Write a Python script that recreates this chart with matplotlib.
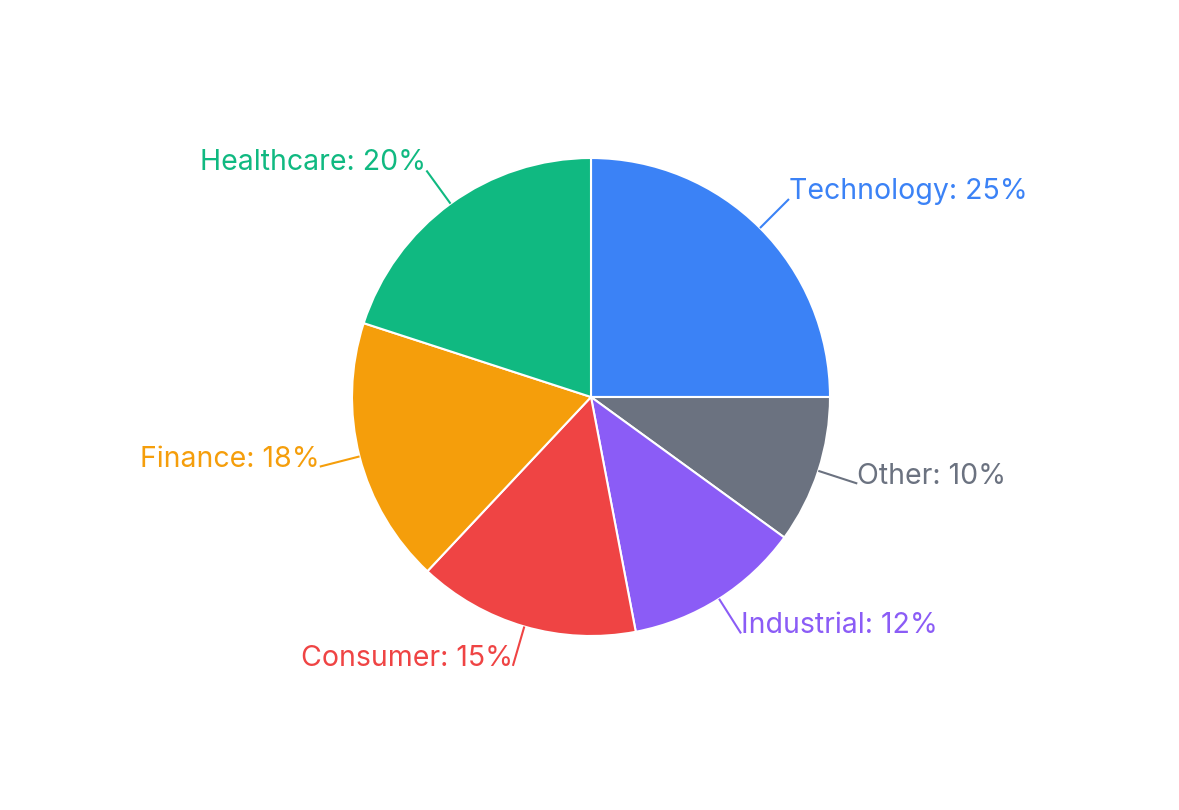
import numpy as np
import matplotlib.pyplot as plt

sectors = ["Technology", "Other", "Industrial", "Consumer", "Finance", "Healthcare"]
shares = [25, 10, 12, 15, 18, 20]
colors = ["#3b82f6", "#6b7280", "#8b5cf6", "#ef4444", "#f59e0b", "#10b981"]

plt.rcParams['font.family'] = ['Inter', 'DejaVu Sans']

W, H = 1179, 810
R = 239.0  # pie radius in px
cx, cy = 591, 810 - 397

fig = plt.figure(figsize=(W / 100, H / 100), dpi=100)
ax = fig.add_axes([0, 0, 1, 1])

wedges, _ = ax.pie(shares, colors=colors, startangle=90, counterclock=False,
                   wedgeprops=dict(edgecolor="white", linewidth=1.5))

ax.set_xlim(-cx / R, (W - cx) / R)
ax.set_ylim(-cy / R, (H - cy) / R)
ax.set_aspect("auto")
ax.axis("off")

# leader lines and labels
for w, name, val, col in zip(wedges, sectors, shares, colors):
    mid = np.deg2rad((w.theta1 + w.theta2) / 2)
    dx, dy = np.cos(mid), np.sin(mid)
    r2 = 1.1715
    ax.plot([dx, dx * r2], [dy, dy * r2], color=col, lw=1.5, solid_capstyle="butt")
    ha = "left" if dx > 0 else "right"
    ax.text(dx * r2, dy * r2, f"{name}: {val}%", color=col, fontsize=20.5,
            ha=ha, va="baseline")

fig.savefig("out.png", dpi=100)
